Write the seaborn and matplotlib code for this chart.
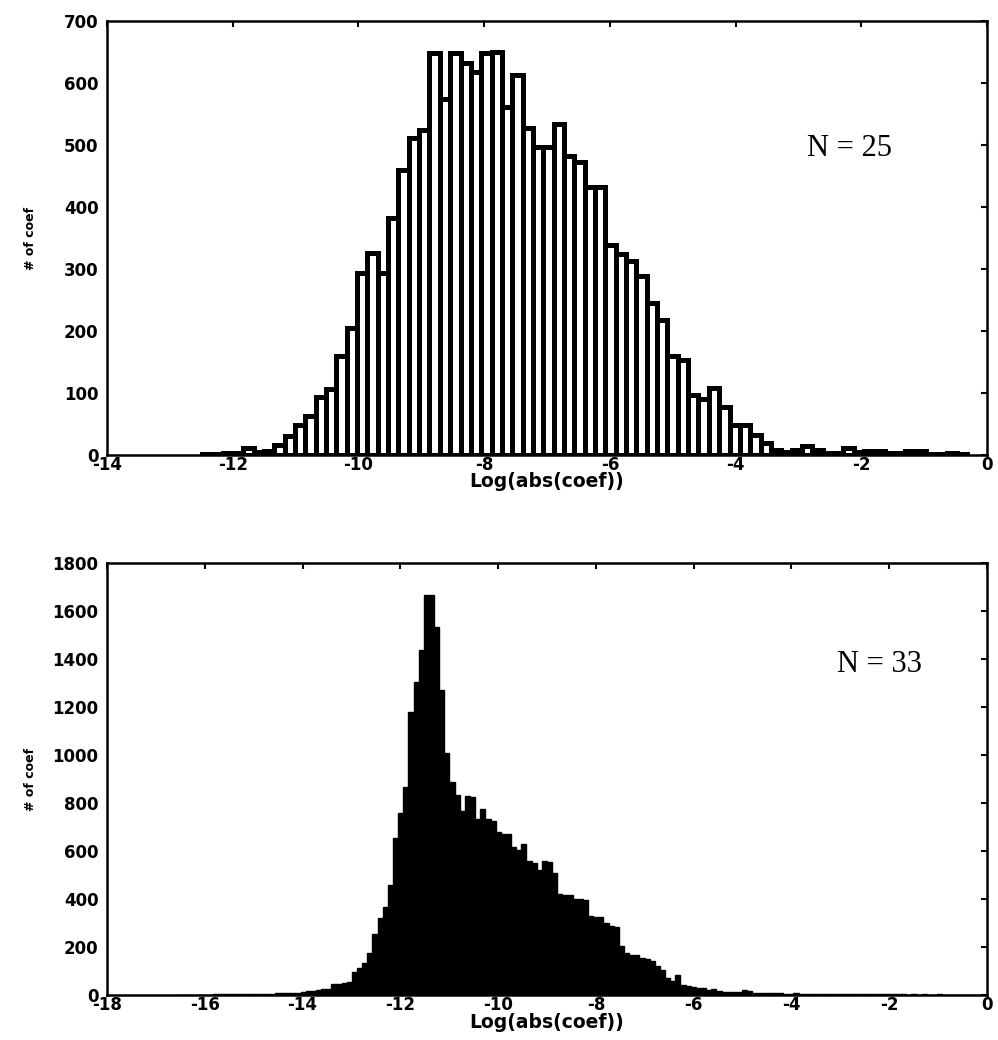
import numpy as np
import pandas as pd
import matplotlib
matplotlib.use("Agg")
import matplotlib.pyplot as plt
import seaborn as sns

# ---------------- data ----------------
# Top panel, N = 25 : bin counts, equal-width bins
top_first_edge = -12.491
top_bin_width = 0.1646
top_counts = [1, 2, 3, 3, 11, 5, 7, 16, 30, 49, 63, 94, 106, 160, 205, 293, 326, 293,
              383, 460, 512, 524, 648, 574, 648, 632, 618, 648, 650, 562, 613, 528, 496, 497, 534, 482,
              473, 433, 433, 339, 325, 313, 288, 245, 218, 160, 154, 97, 91, 108, 77, 48, 49, 32,
              19, 8, 5, 8, 14, 8, 3, 3, 12, 5, 6, 6, 4, 4, 6, 6, 2, 2, 4, 2]

# Bottom panel, N = 33 : bin counts, equal-width bins
bot_first_edge = -16.56
bot_bin_width = 0.105
bot_counts_left = [1, 1, 1, 1, 1, 1, 1, 2,
                   2, 3, 3, 3, 4, 4, 4, 5, 5, 5, 6,
                   7, 8, 8, 9, 10,
                   12, 16, 18, 20, 24, 26, 45, 47, 50,
                   55, 97, 111, 135, 174, 254, 319, 365, 458, 653, 760, 868, 1180, 1305, 1437, 1665, 1668]
bot_counts_mid = [1532, 1271, 1007, 889, 833, 765, 828, 826, 735, 774, 732, 726, 680, 672, 670,
                  618, 606, 629, 558, 550, 521, 558, 555, 507, 421, 418, 416, 399, 400, 396,
                  329, 326, 325, 299, 288, 285, 205, 174, 168, 165, 153]
bot_counts_tail = [149, 140, 120, 106, 70, 58, 84, 40, 38, 33, 31, 30, 20, 23, 16, 14, 14, 13, 13, 19,
                   17, 10, 9, 8, 8, 7, 7, 6, 6, 7,
                   6, 5, 4, 4, 4, 3, 3, 5, 5, 3,
                   3, 2, 3, 2, 2, 2, 3, 2, 2, 2,
                   2, 1, 2, 1, 2, 1, 1, 2, 1, 1,
                   1, 1, 1, 1, 0, 1]

top_xticks = [-14, -12, -10, -8, -6, -4, -2, 0]
top_yticks = [0, 100, 200, 300, 400, 500, 600, 700]
bot_xticks = [-18, -16, -14, -12, -10, -8, -6, -4, -2, 0]
bot_yticks = [0, 200, 400, 600, 800, 1000, 1200, 1400, 1600, 1800]
top_label = "N = 25"
bot_label = "N = 33"
xlabel_text = "Log(abs(coef))"
ylabel_text = "# of coef"


def make_frame(counts, first_edge, width):
    counts = np.asarray(counts, dtype=float)
    edges = first_edge + width * np.arange(len(counts) + 1)
    centers = 0.5 * (edges[:-1] + edges[1:])
    return pd.DataFrame({"x": centers, "n": counts}), [float(e) for e in edges]


top_df, top_edges = make_frame(top_counts, top_first_edge, top_bin_width)
bot_df, bot_edges = make_frame(bot_counts_left + bot_counts_mid + bot_counts_tail,
                               bot_first_edge, bot_bin_width)

# ---------------- plotting ----------------
sns.set_style("white")
plt.rcParams["font.family"] = ["DejaVu Sans"]
plt.rcParams["text.color"] = "black"
plt.rcParams["axes.labelcolor"] = "black"

fig = plt.figure(figsize=(9.98, 10.4), dpi=100)
ax1 = fig.add_axes([0.1072, 0.5625, 0.8818, 0.4173])
ax2 = fig.add_axes([0.1072, 0.0433, 0.8818, 0.4154])

sns.histplot(data=top_df, x="x", weights="n", bins=top_edges, ax=ax1,
             color="white", edgecolor="black", linewidth=3.6, alpha=1)
sns.histplot(data=bot_df, x="x", weights="n", bins=bot_edges, ax=ax2,
             color="black", edgecolor="black", linewidth=1.0, alpha=1)

for ax, xt, yt, lab, ly in [(ax1, top_xticks, top_yticks, top_label, 495),
                            (ax2, bot_xticks, bot_yticks, bot_label, 1375)]:
    ax.set_xlim(xt[0], xt[-1])
    ax.set_ylim(yt[0], yt[-1])
    ax.set_xticks(xt)
    ax.set_yticks(yt)
    ax.set_xticklabels([str(v) for v in xt], fontweight="bold", fontsize=12)
    ax.set_yticklabels([str(v) for v in yt], fontweight="bold", fontsize=12)
    ax.tick_params(direction="in", length=4, width=1.5, top=True, right=True,
                   labeltop=False, labelright=False, colors="black")
    ax.tick_params(axis="x", pad=1)
    ax.tick_params(axis="y", pad=6)
    for sp in ax.spines.values():
        sp.set_visible(True)
        sp.set_linewidth(1.8)
        sp.set_color("black")
    ax.set_xlabel(xlabel_text, fontweight="bold", fontsize=13.5, color="black")
    ax.set_ylabel(ylabel_text, fontweight="bold", fontsize=9, color="black")
    ax.yaxis.set_label_coords(-0.08, 0.5)
    ax.text(-2.19, ly, lab, family=["Liberation Serif", "DejaVu Serif"], fontsize=22,
            ha="center", va="center", color="black")
    ax.grid(False)

ax1.xaxis.set_label_coords(0.5, -0.040)
ax2.xaxis.set_label_coords(0.5, -0.041)

fig.savefig("out.png", dpi=100, facecolor="white")
